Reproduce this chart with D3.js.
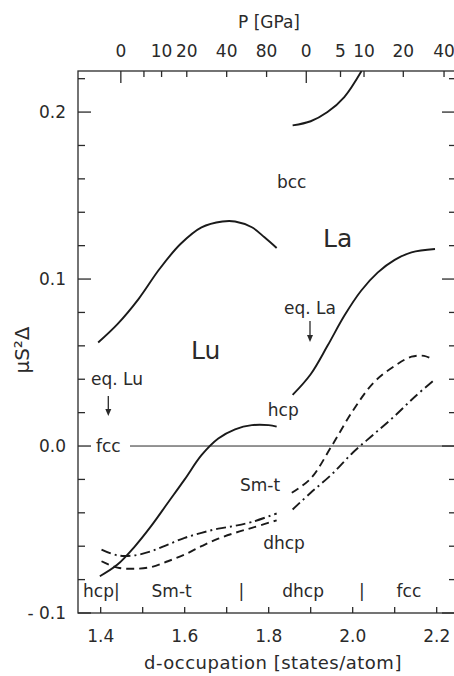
<!DOCTYPE html>
<html lang="en">
<head>
    <meta charset="UTF-8">
    <title>Structural energy differences vs d-occupation</title>
    <script src="https://d3js.org/d3.v7.min.js"></script>
    <style>
        body { margin: 0; background: #fff; }
        text {
            font-family: "DejaVu Sans", sans-serif;
            font-size: 17px;
            fill: #2a2a2a;
        }
        .frame { stroke: #2a2a2a; stroke-width: 1.3; fill: none; }
        .tick-line { stroke: #2a2a2a; stroke-width: 1.3; }
        .curve { fill: none; stroke: #1a1a1a; stroke-width: 1.9; }
        .dashed { stroke-dasharray: 8 5; }
        .dashdot { stroke-dasharray: 10 4 2 4; }
        .zero-line { stroke: #2a2a2a; stroke-width: 1; }
        .big { font-size: 25px; }
        .axis-name { font-size: 18px; letter-spacing: 0.5px; }
        .y-name { font-size: 20px; }
    </style>
</head>
<body>
    <script>
        // curves: [d-occupation, muS^2 Delta]
        const luBcc = [[1.394, 0.062], [1.44, 0.073], [1.49, 0.088], [1.54, 0.106], [1.59, 0.121],
            [1.64, 0.131], [1.69, 0.1345], [1.72, 0.1345], [1.76, 0.131], [1.79, 0.125], [1.819, 0.1186]];
        const laBcc = [[1.857, 0.192], [1.90, 0.1945], [1.94, 0.200], [1.98, 0.209], [2.021, 0.2246]];
        const luHcp = [[1.398, -0.078], [1.44, -0.071], [1.48, -0.0605], [1.52, -0.048], [1.56, -0.034],
            [1.60, -0.020], [1.64, -0.0055], [1.68, 0.0045], [1.72, 0.0100], [1.76, 0.0125],
            [1.80, 0.0125], [1.819, 0.0116]];
        const laHcp = [[1.857, 0.0306], [1.90, 0.043], [1.94, 0.060], [1.98, 0.078], [2.02, 0.093],
            [2.06, 0.104], [2.10, 0.1115], [2.14, 0.116], [2.196, 0.118]];
        const luSmt = [[1.402, -0.069], [1.44, -0.0728], [1.48, -0.0735], [1.52, -0.0725], [1.56, -0.069],
            [1.60, -0.065], [1.64, -0.060], [1.68, -0.0555], [1.72, -0.052], [1.76, -0.049], [1.819, -0.0445]];
        const laSmt = [[1.855, -0.028], [1.90, -0.0195], [1.95, 0.000], [2.00, 0.021], [2.05, 0.038],
            [2.10, 0.048], [2.14, 0.0535], [2.17, 0.054], [2.19, 0.052]];
        const luDhcp = [[1.402, -0.062], [1.44, -0.0655], [1.48, -0.0655], [1.52, -0.063], [1.56, -0.059],
            [1.60, -0.055], [1.64, -0.052], [1.68, -0.0495], [1.72, -0.0478], [1.76, -0.0455], [1.819, -0.0404]];
        const laDhcp = [[1.857, -0.038], [1.90, -0.028], [1.95, -0.017], [2.00, -0.004], [2.05, 0.007],
            [2.10, 0.018], [2.15, 0.030], [2.196, 0.040]];

        // bottom axis
        const xTicks = [1.4, 1.5, 1.6, 1.7, 1.8, 1.9, 2.0, 2.1, 2.2];
        const xLabels = [1.4, 1.6, 1.8, 2.0, 2.2];
        // left axis
        const yTicks = d3.range(-0.1, 0.221, 0.02).map(v => +v.toFixed(2));
        const yLabels = [[-0.1, '- 0.1'], [0.0, '0.0'], [0.1, '0.1'], [0.2, '0.2']];
        // top pressure axis (GPa) and the d-occupation where each sits
        const pLabels = ['0', '', '10', '20', '40', '80', '0', '5', '10', '20', '40'];
        const pPos = [1.448, 1.503, 1.545, 1.605, 1.700, 1.795, 1.8895, 1.971, 2.027, 2.1205, 2.2175];
        // phase regions along the bottom
        const phaseNames = ['hcp|', 'Sm-t', '|', 'dhcp', '|', 'fcc'];
        const phasePos = [1.358, 1.569, 1.735, 1.882, 2.022, 2.134];

        const plotL = 78, plotR = 455, plotT = 71, plotB = 613;

        const svg = d3.select('body').append('svg')
            .attr('width', 454)
            .attr('height', 676);

        const x = d3.scaleLinear().domain([1.346, 2.2436]).range([plotL, plotR]);
        const y = d3.scaleLinear().domain([-0.1, 0.2246]).range([plotB, plotT]);

        svg.append('clipPath').attr('id', 'plot')
            .append('rect').attr('x', plotL).attr('y', plotT)
            .attr('width', plotR - plotL).attr('height', plotB - plotT);

        // frame
        svg.append('rect')
            .attr('class', 'frame')
            .attr('x', plotL).attr('y', plotT)
            .attr('width', plotR - plotL).attr('height', plotB - plotT);

        // y ticks, inward on both sides
        const isMajor = v => Math.abs(v * 10 - Math.round(v * 10)) < 1e-6;
        svg.selectAll('.yl').data(yTicks).enter().append('line')
            .attr('class', 'tick-line')
            .attr('x1', plotL).attr('x2', d => plotL + (isMajor(d) ? 13 : 7))
            .attr('y1', d => y(d)).attr('y2', d => y(d));
        svg.selectAll('.yr').data(yTicks).enter().append('line')
            .attr('class', 'tick-line')
            .attr('x1', plotR).attr('x2', d => plotR - (isMajor(d) ? 13 : 6))
            .attr('y1', d => y(d)).attr('y2', d => y(d));
        svg.selectAll('.ylab').data(yLabels).enter().append('text')
            .attr('x', 66).attr('y', d => y(d[0]))
            .attr('dy', '0.36em')
            .attr('text-anchor', 'end')
            .text(d => d[1]);

        // x ticks
        svg.selectAll('.xt').data(xTicks).enter().append('line')
            .attr('class', 'tick-line')
            .attr('x1', d => x(d)).attr('x2', d => x(d))
            .attr('y1', plotB).attr('y2', plotB - 6);
        svg.selectAll('.xlab').data(xLabels).enter().append('text')
            .attr('x', d => x(d)).attr('y', 642)
            .attr('text-anchor', 'middle')
            .text(d => d.toFixed(1));

        // top pressure ticks
        svg.selectAll('.pt').data(pPos).enter().append('line')
            .attr('class', 'tick-line')
            .attr('x1', d => x(d)).attr('x2', d => x(d))
            .attr('y1', plotT).attr('y2', (d, i) => plotT + (pLabels[i] === '0' ? 12 : 6));
        svg.selectAll('.plab').data(pPos).enter().append('text')
            .attr('x', d => x(d)).attr('y', 57)
            .attr('text-anchor', 'middle')
            .text((d, i) => pLabels[i]);

        // axis names
        svg.append('text')
            .attr('x', 269).attr('y', 28)
            .attr('text-anchor', 'middle')
            .text('P [GPa]');
        svg.append('text')
            .attr('class', 'axis-name')
            .attr('x', 273).attr('y', 669)
            .attr('text-anchor', 'middle')
            .text('d-occupation [states/atom]');
        svg.append('text')
            .attr('class', 'y-name')
            .attr('transform', 'translate(29,350) rotate(-90)')
            .attr('text-anchor', 'middle')
            .text('μS²Δ');

        // zero line
        svg.append('line')
            .attr('class', 'zero-line')
            .attr('x1', 130).attr('x2', plotR)
            .attr('y1', y(0)).attr('y2', y(0));

        // curves
        const line = d3.line()
            .x(d => x(d[0]))
            .y(d => y(d[1]))
            .curve(d3.curveCatmullRom.alpha(0.5));
        const curves = [
            [luBcc, ''], [laBcc, ''], [luHcp, ''], [laHcp, ''],
            [luSmt, 'dashed'], [laSmt, 'dashed'], [luDhcp, 'dashdot'], [laDhcp, 'dashdot']
        ];
        svg.append('g').attr('clip-path', 'url(#plot)')
            .selectAll('path').data(curves).enter().append('path')
            .attr('class', d => 'curve ' + d[1])
            .attr('d', d => line(d[0]));

        // labels in the plot
        const labels = [
            ['bcc', 291.7, 182, 'middle', ''],
            ['La', 337.7, 238, 'middle', 'big'],
            ['Lu', 205.7, 350, 'middle', 'big'],
            ['eq. La', 310, 308, 'middle', ''],
            ['eq. Lu', 91, 379, 'start', ''],
            ['fcc', 96, 446, 'start', ''],
            ['hcp', 283.3, 410, 'middle', ''],
            ['Sm-t', 260, 485, 'middle', ''],
            ['dhcp', 284, 543, 'middle', '']
        ];
        svg.selectAll('.lab').data(labels).enter().append('text')
            .attr('class', d => d[4])
            .attr('x', d => d[1]).attr('y', d => d[2])
            .attr('dy', '0.36em')
            .attr('text-anchor', d => d[3])
            .text(d => d[0]);

        svg.selectAll('.phase').data(phaseNames).enter().append('text')
            .attr('x', (d, i) => x(phasePos[i]))
            .attr('y', 597)
            .attr('text-anchor', (d, i) => i === 0 ? 'start' : 'middle')
            .text(d => d);

        // arrows for equilibrium volumes
        const arrows = [[108.3, 396, 416], [310, 321, 342]];
        arrows.forEach(a => {
            svg.append('line')
                .attr('class', 'tick-line')
                .attr('x1', a[0]).attr('x2', a[0])
                .attr('y1', a[1]).attr('y2', a[2] - 4);
            svg.append('path')
                .attr('d', `M${a[0] - 3},${a[2] - 7} L${a[0] + 3},${a[2] - 7} L${a[0]},${a[2]} Z`)
                .attr('fill', '#2a2a2a');
        });
    </script>
</body>
</html>
